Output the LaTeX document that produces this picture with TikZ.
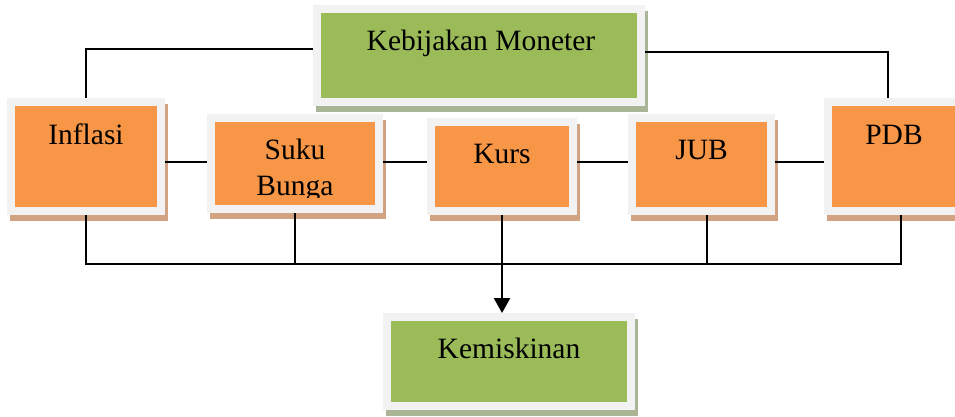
\documentclass[tikz,border=0pt]{standalone}
\usepackage{fontspec}
\setmainfont{Liberation Serif}
\usetikzlibrary{shadows,arrows.meta}
\definecolor{boxO}{HTML}{F79646}
\definecolor{boxG}{HTML}{9BBB59}
\definecolor{frameC}{HTML}{F2F2F2}
\definecolor{shadO}{HTML}{D2A383}
\definecolor{shadG}{HTML}{AAB496}
\tikzset{
  panel/.style 2 args={fill=frameC, inner sep=0pt, outer sep=0pt,
    general shadow={fill=#2, shadow xshift=3pt, shadow yshift=-6pt},
    path picture={\fill[#1] ([xshift=8pt,yshift=-8pt]path picture bounding box.north west)
      rectangle ([xshift=-8pt,yshift=8pt]path picture bounding box.south east);}},
  obox/.style={panel={boxO}{shadO}},
  gbox/.style={panel={boxG}{shadG}},
  lbl/.style={inner sep=0pt, anchor=base, font=\fontsize{29.5}{36}\selectfont},
  conn/.style={line width=2.2pt, black},
}
\begin{document}
\begin{tikzpicture}[x=1pt,y=-1pt]
\useasboundingbox (0,0) rectangle (955,416);
% boxes
\node[gbox, minimum width=332pt, minimum height=101pt] (kebijakan) at (479,55.5) {};
\node[obox, minimum width=158pt, minimum height=117pt] (inflasi) at (86,156.5) {};
\node[obox, minimum width=176pt, minimum height=99pt] (suku) at (295,163.5) {};
\node[obox, minimum width=150pt, minimum height=97pt] (kurs) at (502,166.5) {};
\node[obox, minimum width=147pt, minimum height=101pt] (jub) at (701.5,164.5) {};
\node[obox, minimum width=140pt, minimum height=117pt] (pdb) at (894,156.5) {};
\node[gbox, minimum width=252pt, minimum height=97pt] (kemiskinan) at (509,361.5) {};
% labels
\node[lbl] (kebijakanT) at ([xshift=2pt,yshift=-45pt]kebijakan.north) {Kebijakan Moneter};
\node[lbl] (inflasiT) at ([yshift=-46pt]inflasi.north) {Inflasi};
\node[lbl] (sukuT) at ([yshift=-45pt]suku.north) {Suku};
\begin{scope}
\clip (0,0) rectangle (955,197);
\node[lbl] (bungaT) at ([yshift=-81pt]suku.north) {Bunga};
\end{scope}
\node[lbl] (kursT) at ([yshift=-45pt]kurs.north) {Kurs};
\node[lbl] (jubT) at ([yshift=-45pt]jub.north) {JUB};
\node[lbl] (pdbT) at ([yshift=-46pt]pdb.north) {PDB};
\node[lbl] (kemiskinanT) at ([yshift=-45pt]kemiskinan.north) {Kemiskinan};
% connectors
\coordinate (row) at (0,162);
\draw[conn] (inflasi.east |- row) -- (suku.west |- row);
\draw[conn] (suku.east |- row) -- (kurs.west |- row);
\draw[conn] (kurs.east |- row) -- (jub.west |- row);
\draw[conn] (jub.east |- row) -- (pdb.west |- row);
\coordinate (topL) at (86,49);
\coordinate (topR) at (888,52);
\draw[conn] (kebijakan.west |- topL) -- (topL) -- (inflasi.north);
\draw[conn] (kebijakan.east |- topR) -- (topR) -- (topR |- pdb.north);
\coordinate (busL) at (86,264);
\coordinate (busR) at (901,264);
\coordinate (jubX) at (707,0);
\draw[conn] (inflasi.south) -- (busL) -- (busR) -- (busR |- pdb.south);
\draw[conn] (suku.south) -- (suku.south |- busL);
\draw[conn] (kurs.south) -- (kurs.south |- busL);
\draw[conn] (jubX |- jub.south) -- (jubX |- busL);
\draw[conn, -{Triangle[length=15pt,width=16pt]}] (kurs.south) -- (kurs.south |- kemiskinan.north);
\end{tikzpicture}
\end{document}
